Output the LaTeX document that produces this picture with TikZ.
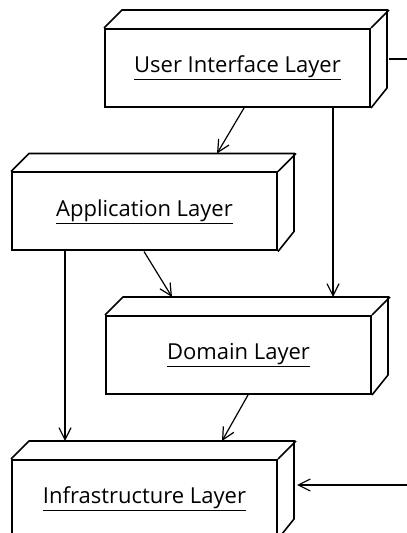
\documentclass[tikz,border=0pt]{standalone}
\usepackage{fontspec}
\setmainfont{Open Sans}
\usetikzlibrary{arrows.meta}
\tikzset{
  x=1pt, y=1pt,
  layerbox/.style={draw, line width=2pt, minimum width=265pt, minimum height=78pt,
    inner sep=0pt, fill=white, font=\fontsize{22}{24}\selectfont},
  depth/.style={line width=1.6pt, line join=miter},
  conn/.style={line width=1.2pt, -{Straight Barb[length=12pt,width=12pt,line width=1.2pt]}},
}
\newcommand{\boxdepth}[1]{%
  \draw[depth] (#1.north west) -- ++(18,18) -- ++(265,0) -- ++(0,-78) -- (#1.south east);
  \draw[depth] (#1.north east) -- ++(18,18);}
\begin{document}
\begin{tikzpicture}
\useasboundingbox (0,0) rectangle (407,533);
\clip (0,0) rectangle (407,533);
\node[layerbox] (ui) at (237.5,465) {\underline{User Interface Layer}};
\boxdepth{ui}
\node[layerbox] (app) at (144.5,321.5) {\underline{Application Layer}};
\boxdepth{app}
\node[layerbox] (dom) at (238.5,178) {\underline{Domain Layer}};
\boxdepth{dom}
\node[layerbox] (inf) at (144.5,34) {\underline{Infrastructure Layer}};
\boxdepth{inf}
\coordinate (r1) at ([xshift=50pt]ui.east |- 0,474);
\coordinate (r2) at (r1 |- 0,48);
\draw[conn] ([xshift=6.5pt]ui.south) -- ([xshift=72.5pt,yshift=18pt]app.north);
\draw[conn] ([xshift=95.5pt]ui.south) -- ([xshift=94.5pt,yshift=18pt]dom.north);
\draw[conn] ([xshift=-0.5pt]app.south) -- ([xshift=-66.5pt,yshift=18pt]dom.north);
\draw[conn] ([xshift=-79.5pt]app.south) -- ([xshift=-79.5pt,yshift=18pt]inf.north);
\draw[conn] ([xshift=9.5pt]dom.south) -- ([xshift=77.5pt,yshift=18pt]inf.north);
\draw[conn] ([xshift=18pt]ui.east |- 0,474) -- (r1) -- (r2) -- ([xshift=19pt]inf.east |- 0,48);
\end{tikzpicture}
\end{document}
